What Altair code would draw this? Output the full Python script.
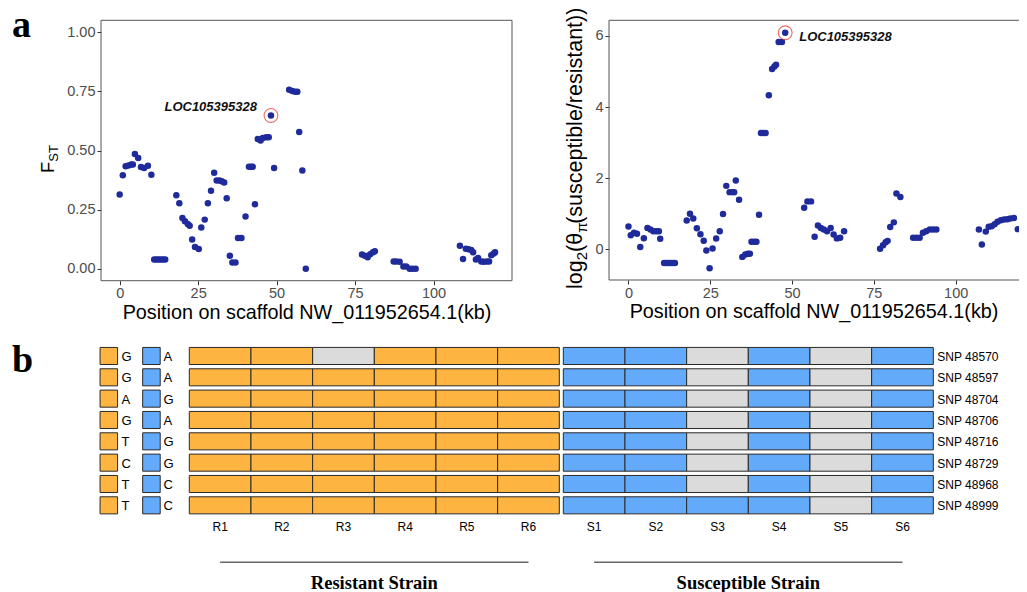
import altair as alt
import pandas as pd

# ----------------------------- data ---------------------------------
# panel a (left): FST along the scaffold
fst_pos = [0.0, 1.0, 1.9, 2.8, 3.7, 4.2, 4.85, 5.9, 6.8, 7.8, 9.0, 10.1,
           11.0, 11.7, 12.4, 13.1, 13.8, 14.5,
           18.05, 19.0, 20.0, 20.8, 21.7, 22.3, 23.1, 24.0, 25.2, 26.0, 27.1,
           28.1, 29.1, 30.1, 30.9, 31.8, 32.5, 33.3, 34.1, 35.1, 35.9, 36.9,
           37.7, 38.8, 40.1, 41.2, 41.9, 42.4, 43.1, 44.0, 44.9, 45.6, 46.7,
           47.5, 48.2, 49.2, 54.0, 55.0, 55.9, 56.6, 57.2, 58.2, 59.3,
           77.2, 78.1, 79.0, 79.8, 80.7, 81.3, 87.3, 88.1, 89.2, 90.4, 91.3,
           92.4, 93.3, 94.3, 108.4, 109.4, 110.3, 111.1, 112.0, 112.6, 113.5,
           114.2, 115.2, 116.0, 117.0, 117.7, 118.4, 119.2, 119.6]
fst_val = [0.314, 0.395, 0.433, 0.437, 0.441, 0.441, 0.485, 0.468, 0.430, 0.426, 0.436, 0.398,
           0.040, 0.040, 0.040, 0.040, 0.040, 0.040,
           0.311, 0.277, 0.215, 0.201, 0.190, 0.182, 0.124, 0.092, 0.084, 0.175, 0.208,
           0.277, 0.330, 0.406, 0.373, 0.373, 0.370, 0.365, 0.298, 0.055, 0.027, 0.027,
           0.130, 0.130, 0.221, 0.431, 0.431, 0.431, 0.273, 0.549, 0.542, 0.553, 0.556,
           0.556, 0.648, 0.426, 0.757, 0.751, 0.748, 0.748, 0.578, 0.416, 0.0,
           0.061, 0.055, 0.049, 0.062, 0.070, 0.074, 0.031, 0.031, 0.030, 0.010, 0.010,
           0.0, 0.0, 0.0, 0.098, 0.042, 0.085, 0.083, 0.080, 0.070, 0.040,
           0.046, 0.031, 0.030, 0.031, 0.031, 0.058, 0.065, 0.070]

# panel a (right): log2 of nucleotide diversity ratio
pi_pos = [0.0, 0.7, 1.7, 2.6, 3.6, 4.7, 5.8, 6.7, 7.6, 8.5, 9.3, 9.7,
          10.9, 11.6, 12.2, 12.9, 13.5, 14.2,
          17.8, 18.8, 19.8, 20.9, 22.0, 23.0, 23.8, 24.8, 25.7, 26.8, 27.9,
          28.9, 29.9, 30.9, 31.8, 32.3, 32.8, 33.8, 34.8, 35.7, 36.5, 37.1,
          37.6, 38.4, 39.1, 39.9, 40.5, 41.2, 41.9, 42.9, 43.9, 44.6, 45.1,
          45.9, 46.9, 47.9, 53.7, 54.7, 55.8, 56.9, 57.9, 58.8, 59.7,
          60.7, 61.8, 62.7, 63.7, 64.7, 65.9, 76.9, 77.8, 78.6, 79.2,
          80.0, 81.1, 81.9, 83.1, 87.0, 88.0, 89.0, 90.0, 91.0, 92.1,
          93.1, 94.1, 107.1, 108.0, 109.2, 110.1, 111.0, 111.9, 112.8, 113.8,
          114.8, 115.8, 116.7, 117.8, 119.0]
pi_val = [0.642, 0.40, 0.465, 0.437, 0.065, 0.316, 0.605, 0.558, 0.512, 0.512, 0.512, 0.298,
          -0.38, -0.38, -0.38, -0.38, -0.38, -0.38,
          0.81, 1.0, 0.87, 0.595, 0.426, 0.242, -0.028, -0.53, 0.028, 0.307, 0.512,
          0.995, 1.786, 1.61, 1.61, 1.61, 1.935, 1.395, -0.21, -0.14, -0.12, -0.12,
          0.214, 0.214, 0.214, 0.977, 3.27, 3.27, 3.27, 4.33, 5.07, 5.14, 5.19,
          5.83, 5.83, 6.09, 1.17, 1.35, 1.35, 0.354, 0.67, 0.60, 0.56,
          0.51, 0.60, 0.42, 0.31, 0.33, 0.51, 0.02, 0.12, 0.20, 0.24,
          0.63, 0.76, 1.57, 1.47, 0.33, 0.33, 0.33, 0.465, 0.51, 0.56,
          0.56, 0.56, 0.56, 0.14, 0.50, 0.64, 0.65, 0.71, 0.78, 0.82,
          0.84, 0.85, 0.87, 0.88, 0.57]

gene_label = "LOC105395328"
fst_peak = [48.2, 0.648]
pi_peak = [47.9, 6.09]

x_ticks = [0, 25, 50, 75, 100]
fst_ticks = [0, 0.25, 0.5, 0.75, 1.0]
pi_ticks = [0, 2, 4, 6]
x_title = "Position on scaffold NW_011952654.1(kb)"

# panel b: genotypes
snp_ids = ["SNP 48570", "SNP 48597", "SNP 48704", "SNP 48706",
           "SNP 48716", "SNP 48729", "SNP 48968", "SNP 48999"]
resistant_allele = ["G", "G", "A", "G", "T", "C", "T", "T"]
susceptible_allele = ["A", "A", "G", "A", "G", "G", "C", "C"]
strains = ["R1", "R2", "R3", "R4", "R5", "R6", "S1", "S2", "S3", "S4", "S5", "S6"]
# R = resistant allele, S = susceptible allele, N = no call
genotype_rows = ["RRNRRRSSNSNS",
                 "RRRRRRSSNSNS",
                 "RRRRRRSSNSNS",
                 "RRRRRRSSNSNS",
                 "RRRRRRSSNSNS",
                 "RRRRRRSSNSNS",
                 "RRRRRRSSNSNS",
                 "RRRRRRSSSSNS"]
strain_groups = ["Resistant Strain", "Susceptible Strain"]

# ----------------------------- style / layout ------------------------
FONT = "Liberation Sans"
SERIF = "Liberation Serif"
W, H = 1011, 584
POINT = "#1F2A9B"
ORANGE = "#FDB441"
BLUE = "#64AAFA"
GRAY = "#DBDBDB"
FRAME = "#555555"

L_XDOM, L_XRANGE = [-5.95, 125.0], [93, 504]
L_YDOM, L_YRANGE = [-0.05, 1.05], [272.7, 12.3]
R_XDOM, R_XRANGE = [-5.95, 119.05], [601, 1010]
R_YDOM, R_YRANGE = [-0.86, 6.44], [272.0, 12.3]
B_XRANGE = [181.3, 551.3]      # 6 genotype columns
B_YRANGE = [337.3, 508.0]
GAP = 0.065                    # gap between the two strain blocks (in column units)


def x_axis(offset):
    return alt.Axis(orient="bottom", offset=offset, values=x_ticks, title=x_title,
                    domain=False, grid=False, tickSize=4, tickColor="#333333",
                    labelFont=FONT, labelFontSize=14.5, labelColor="#4D4D4D",
                    labelPadding=2, labelFlush=False,
                    titleFont=FONT, titleFontSize=19.8, titleFontWeight="normal",
                    titleColor="black", titlePadding=2)


def y_axis(offset, values, fmt):
    return alt.Axis(orient="left", offset=offset, values=values, format=fmt, title=None,
                    domain=False, grid=False, tickSize=4, tickColor="#333333",
                    labelFont=FONT, labelFontSize=14.5, labelColor="#4D4D4D",
                    labelPadding=2)


def scatter_panel(pos, val, peak, xdom, xrange_, ydom, yrange_, yticks, yfmt,
                  label_dx, label_dy, label_align, box_right):
    X = alt.X("pos:Q", scale=alt.Scale(domain=xdom, range=xrange_, nice=False, zero=False),
              axis=x_axis(yrange_[0] - H))
    Y = alt.Y("val:Q", scale=alt.Scale(domain=ydom, range=yrange_, nice=False, zero=False),
              axis=y_axis(-xrange_[0], yticks, yfmt))
    pts = alt.Chart(pd.DataFrame({"pos": pos, "val": val})).mark_circle(
        size=42, color=POINT, opacity=1).encode(x=X, y=Y)
    box = alt.Chart(pd.DataFrame({"pos": [xdom[0]], "pos2": [box_right],
                                  "val": [ydom[0]], "val2": [ydom[1]]})).mark_rect(
        fill=None, stroke=FRAME, strokeWidth=1).encode(x=X, x2="pos2:Q", y=Y, y2="val2:Q")
    peak_df = pd.DataFrame({"pos": [peak[0]], "val": [peak[1]], "gene": [gene_label]})
    ring = alt.Chart(peak_df).mark_point(
        shape="circle", size=190, filled=False, stroke="#E5322B", strokeWidth=1.1
    ).encode(x=X, y=Y)
    lab = alt.Chart(peak_df).mark_text(
        font=FONT, fontSize=13, fontWeight="bold", fontStyle="italic", color="#111111",
        align=label_align, baseline="middle", dx=label_dx, dy=label_dy
    ).encode(x=X, y=Y, text="gene:N")
    return alt.layer(box, pts, ring, lab)


left = scatter_panel(fst_pos, fst_val, fst_peak, L_XDOM, L_XRANGE, L_YDOM, L_YRANGE,
                     fst_ticks, ".2f", -14, -8, "right", L_XDOM[1])
# the right panel runs past the edge of the figure, as in the original
right = scatter_panel(pi_pos, pi_val, pi_peak, R_XDOM, R_XRANGE, R_YDOM, R_YRANGE,
                      pi_ticks, "d", 14, 4, "left", R_XDOM[1] + 6)

# ----------------------------- panel b -------------------------------
BXSCALE = alt.Scale(domain=[0, 6], range=B_XRANGE, nice=False, zero=False)
BX = alt.X("bx:Q", scale=BXSCALE, axis=None)
BY = alt.Y("snp:N", scale=alt.Scale(domain=snp_ids, range=B_YRANGE,
                                    paddingInner=0.2, paddingOuter=0.1), axis=None)
COLOR = alt.Color("code:N", scale=alt.Scale(domain=["R", "S", "N"],
                                            range=[ORANGE, BLUE, GRAY]), legend=None)

cells_df = pd.DataFrame([{"snp": s, "col": j, "code": genotype_rows[i][j]}
                         for i, s in enumerate(snp_ids) for j in range(len(strains))])
cells = alt.Chart(cells_df).transform_calculate(
    bx=f"datum.col + (datum.col >= 6 ? {GAP} : 0)"
).transform_calculate(bx2="datum.bx + 1").mark_rect(
    stroke="#2A2A2A", strokeWidth=1).encode(x=BX, x2="bx2:Q", y=BY, color=COLOR)

allele_df = pd.DataFrame(
    [{"snp": s, "code": "R", "allele": a} for s, a in zip(snp_ids, resistant_allele)] +
    [{"snp": s, "code": "S", "allele": a} for s, a in zip(snp_ids, susceptible_allele)])
squares = alt.Chart(allele_df).transform_calculate(
    bx="datum.code == 'R' ? -1.447 : -0.756"
).transform_calculate(bx2="datum.bx + 0.284").mark_rect(
    stroke="#2A2A2A", strokeWidth=1).encode(x=BX, x2="bx2:Q", y=BY, color=COLOR)
letters = alt.Chart(allele_df).transform_calculate(
    bx="datum.code == 'R' ? -1.10 : -0.42"
).mark_text(font=FONT, fontSize=13, align="left", baseline="middle", color="black",
            dy=1).encode(x=BX, y=BY, text="allele:N")

snp_df = pd.DataFrame({"snp": snp_ids})
snp_labels = alt.Chart(snp_df).transform_calculate(bx="12.13").mark_text(
    font=FONT, fontSize=12, align="left", baseline="middle", color="black", dy=1
).encode(x=BX, y=BY, text="snp:N")

strain_df = pd.DataFrame({"strain": strains, "col": list(range(len(strains)))})
col_labels = alt.Chart(strain_df).transform_calculate(
    bx=f"datum.col + 0.5 + (datum.col >= 6 ? {GAP} : 0)"
).mark_text(font=FONT, fontSize=12, align="center", baseline="middle", color="black"
            ).encode(x=BX, y=alt.value(519), text="strain:N")

group_df = pd.DataFrame({"group": strain_groups, "first": [0, 6]})
group_base = alt.Chart(group_df).transform_calculate(
    start=f"datum.first + (datum.first >= 6 ? {GAP} : 0)"
).transform_calculate(bx="datum.start + 0.5", bx2="datum.start + 5.5",
                      bmid="datum.start + 3")
group_rules = group_base.mark_rule(color="#666666", strokeWidth=1.5).encode(
    x=BX, x2="bx2:Q", y=alt.value(554.3))
group_text = group_base.mark_text(
    font=SERIF, fontSize=18.5, fontWeight="bold", align="center", baseline="alphabetic",
    color="black").encode(x=alt.X("bmid:Q", scale=BXSCALE, axis=None),
                          y=alt.value(581), text="group:N")

panel_b = alt.layer(cells, squares, letters, snp_labels, col_labels, group_rules, group_text)


# ----------------------------- free text ------------------------------
def txt(s, x, y, size, font=FONT, weight="normal", angle=0, align="left"):
    return alt.Chart(pd.DataFrame({"t": [s]})).mark_text(
        font=font, fontSize=size, fontWeight=weight, angle=angle, align=align,
        baseline="alphabetic", color="black").encode(
        x=alt.value(x), y=alt.value(y), text="t:N")


MAIN, SUB = 21.5, 15
bx0 = 574
y = 281
pieces = []
for s, size, shift, adv in [("log", MAIN, 0, 1.334 * MAIN),
                            ("2", SUB, 4.8, 0.556 * SUB),
                            ("(θ", MAIN, 0, 0.889 * MAIN),
                            ("π", SUB, 4.8, 0.6 * SUB),
                            ("(susceptible/resistant))", MAIN, 0, 0)]:
    pieces.append(txt(s, bx0 + shift, y, size, angle=270))
    y -= adv

titles = [
    txt("a", 4, 29, 38, font=SERIF, weight="bold"),
    txt("b", 4, 364, 38, font=SERIF, weight="bold"),
    txt("F", 46, 165, 18.5, angle=270),
    txt("ST", 50, 165 - 0.611 * 18.5, 13, angle=270),
] + pieces

chart = alt.layer(left, right, panel_b, *titles).resolve_scale(
    x="independent", y="independent"
).properties(
    width=W, height=H, padding=0, autosize=alt.AutoSizeParams(type="none"),
    background="white"
).configure_view(stroke=None)

chart.save("out.html", embed_options={"renderer": "svg", "actions": False})
